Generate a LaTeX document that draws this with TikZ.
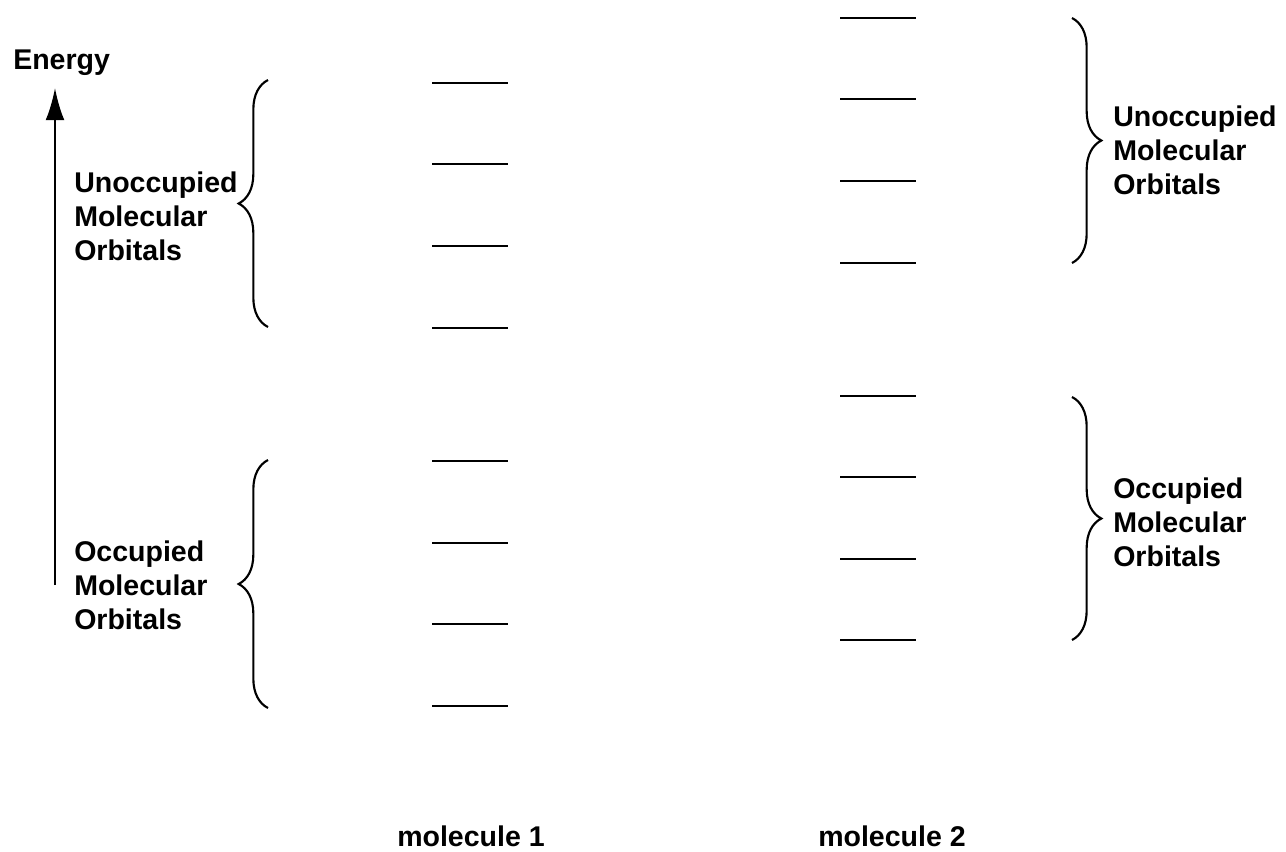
\documentclass[tikz,border=0pt]{standalone}
\usepackage{fontspec}
\setmainfont{Liberation Sans}
\usetikzlibrary{arrows.meta,decorations.pathreplacing}
\begin{document}
\begin{tikzpicture}[x=0.75pt,y=-0.75pt,
  lbl/.style={font=\fontsize{21.4}{25.5}\selectfont\bfseries,align=left,inner sep=0pt},
  lvl/.style={line width=1.9pt},
  brc/.style={line width=1.6pt,decorate,decoration={brace,amplitude=22pt,aspect=0.5}}]
\useasboundingbox (0,0) rectangle (1286,851);
% energy axis
\node[lbl,anchor=west] (energy) at (13,63) {Energy};
\coordinate (axbot) at (55,585);
\coordinate (axtop) at (55,88);
\draw[line width=1.6pt,-{Latex[length=24pt,width=14pt]}] (axbot) -- (axtop);
% molecule 1 levels
\foreach \y in {83,164,246,328,461,543,624,706}
  \draw[lvl] (432,\y) -- (508,\y);
% molecule 2 levels
\foreach \y in {18,99,181,263,396,477,559,640}
  \draw[lvl] (840,\y) -- (916,\y);
% left braces
\coordinate (lub) at (268,327); \coordinate (lut) at (268,80);
\draw[brc] (lub) -- (lut);
\coordinate (llb) at (268,708); \coordinate (llt) at (268,460);
\draw[brc] (llb) -- (llt);
% right braces
\coordinate (rut) at (1072,18); \coordinate (rub) at (1072,263);
\draw[brc] (rut) -- (rub);
\coordinate (rlt) at (1072,397); \coordinate (rlb) at (1072,640);
\draw[brc] (rlt) -- (rlb);
% labels
\node[lbl,anchor=west] (lu) at (74,216) {Unoccupied\\Molecular\\Orbitals};
\node[lbl,anchor=west] (ll) at (74,585) {Occupied\\Molecular\\Orbitals};
\node[lbl,anchor=west] (ru) at (1113,150) {Unoccupied\\Molecular\\Orbitals};
\node[lbl,anchor=west] (rl) at (1113,522) {Occupied\\Molecular\\Orbitals};
\node[lbl,anchor=base] (m1) at (471,846) {molecule 1};
\node[lbl,anchor=base] (m2) at (892,846) {molecule 2};
\end{tikzpicture}
\end{document}
